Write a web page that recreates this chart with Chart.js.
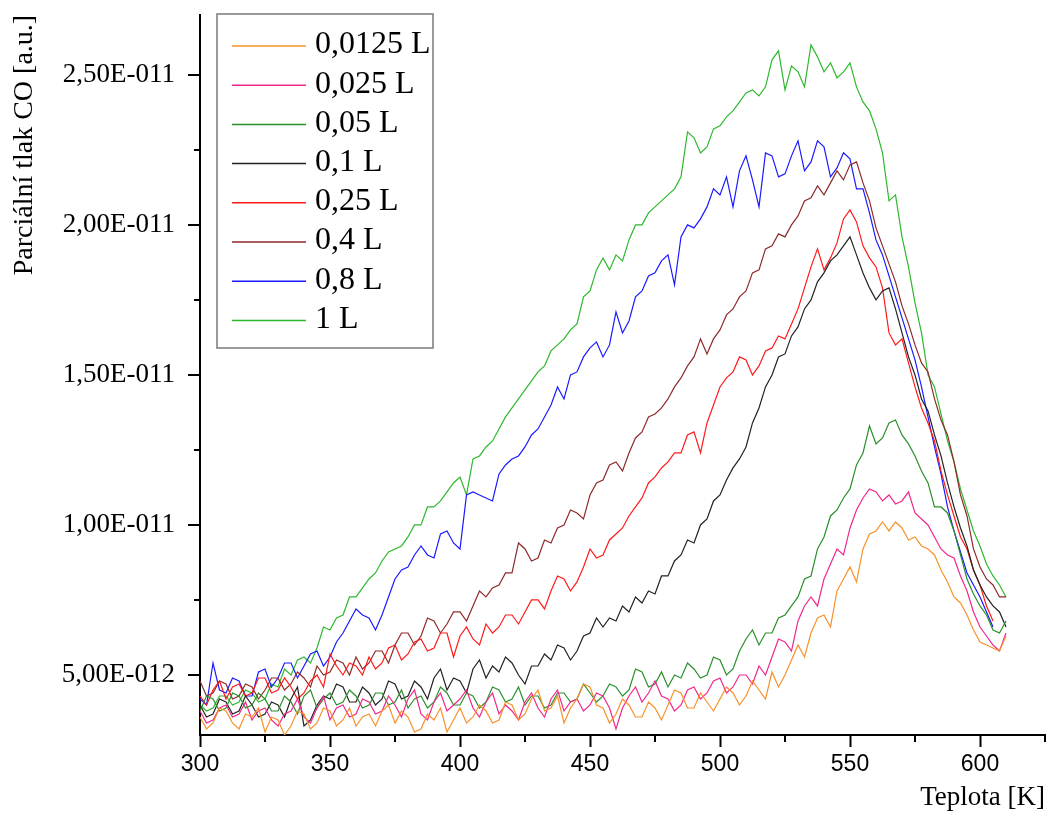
<!DOCTYPE html>
<html>
<head>
<meta charset="utf-8">
<script src="https://cdn.jsdelivr.net/npm/chart.js@4.4.1/dist/chart.umd.min.js"></script>
<style>
  html, body { margin: 0; padding: 0; background: #fff; }
  #chart { display: block; }
</style>
</head>
<body>
<canvas id="chart" width="1050" height="814"></canvas>
<script>
// temperatures [K]
const temperatures = [
  300, 302.5, 305, 307.5, 310, 312.5, 315, 317.5, 320, 322.5,
  325, 327.5, 330, 332.5, 335, 337.5, 340, 342.5, 345, 347.5,
  350, 352.5, 355, 357.5, 360, 362.5, 365, 367.5, 370, 372.5,
  375, 377.5, 380, 382.5, 385, 387.5, 390, 392.5, 395, 397.5,
  400, 402.5, 405, 407.5, 410, 412.5, 415, 417.5, 420, 422.5,
  425, 427.5, 430, 432.5, 435, 437.5, 440, 442.5, 445, 447.5,
  450, 452.5, 455, 457.5, 460, 462.5, 465, 467.5, 470, 472.5,
  475, 477.5, 480, 482.5, 485, 487.5, 490, 492.5, 495, 497.5,
  500, 502.5, 505, 507.5, 510, 512.5, 515, 517.5, 520, 522.5,
  525, 527.5, 530, 532.5, 535, 537.5, 540, 542.5, 545, 547.5,
  550, 552.5, 555, 557.5, 560, 562.5, 565, 567.5, 570, 572.5,
  575, 577.5, 580, 582.5, 585, 587.5, 590, 592.5, 595, 597.5,
  600, 602.5, 605, 607.5, 610
];

// partial pressure of CO, in units of 1E-012
const p0125 = [
  3.6, 3.2, 3.4, 3.9, 3.8, 3.4, 3.2, 3.7, 3.6, 3.9,
  3.1, 3.6, 3.5, 3.0, 3.3, 3.8, 3.7, 3.2, 3.4, 3.9,
  3.8, 3.3, 3.5, 3.9, 3.3, 3.6, 3.7, 3.3, 3.8, 4.0,
  3.4, 3.8, 3.6, 3.1, 3.2, 3.7, 3.5, 3.9, 3.1, 3.5,
  3.9, 3.4, 3.6, 4.0, 3.8, 3.4, 3.5, 4.1, 4.0, 3.5,
  3.7, 4.2, 4.5, 3.8, 3.9, 4.3, 3.4, 3.9, 4.2, 4.7,
  4.6, 4.0, 3.9, 3.4, 3.7, 4.2, 4.0, 3.6, 3.6, 4.1,
  3.9, 3.5, 4.0, 4.5, 4.4, 3.9, 3.9, 4.4, 4.1, 3.8,
  4.2, 4.6, 4.4, 4.0, 4.3, 4.8, 4.5, 4.2, 5.1, 4.6,
  5.0, 5.5, 6.0, 5.6, 6.4, 6.9, 7.0, 6.6, 7.8, 8.2,
  8.6, 8.1, 9.2, 9.7, 9.8, 10.1, 9.8, 10.1, 9.9, 9.5,
  9.6, 9.3, 9.2, 9.0, 8.5, 8.1, 7.6, 7.4, 7.0, 6.5,
  6.1, 6.0, 5.9, 5.8, 6.3
];
const p025 = [
  3.8, 3.4, 3.5, 3.9, 4.0, 3.6, 3.7, 4.1, 3.5, 3.8,
  3.9, 3.5, 3.3, 3.7, 3.8, 4.2, 3.6, 3.4, 3.9, 4.3,
  3.5, 3.9, 4.0, 3.6, 3.7, 4.2, 4.1, 3.7, 3.8, 4.3,
  4.0, 3.6, 4.2, 4.5, 3.7, 3.5, 4.1, 4.4, 3.8, 4.0,
  4.2, 4.5, 3.9, 3.6, 4.1, 4.4, 3.7, 4.0, 3.8, 3.5,
  4.1, 4.4, 3.9, 3.6, 4.2, 4.5, 3.8, 4.1, 4.2, 3.8,
  4.0, 4.4, 4.3, 3.9, 3.2, 3.9, 4.3, 4.6, 4.1, 4.4,
  4.8, 4.3, 4.2, 3.8, 4.0, 4.5, 4.6, 4.2, 4.4, 4.8,
  4.9, 4.4, 4.6, 5.0, 5.0, 4.7, 5.3, 5.0, 5.6, 6.2,
  6.1, 5.8, 6.8, 7.3, 7.6, 7.3, 8.2, 8.7, 9.2, 9.0,
  9.9, 10.5, 10.9, 11.2, 11.1, 10.8, 11.0, 10.7, 10.8, 11.1,
  10.4, 10.2, 10.0, 9.6, 9.2, 9.0, 8.9, 8.3, 7.8, 7.1,
  6.6, 6.3, 6.0, 5.8, 6.4
];
const p05 = [
  3.8, 4.3, 4.2, 3.8, 3.9, 4.4, 4.3, 3.9, 4.0, 4.4,
  4.2, 3.8, 3.8, 4.3, 4.1, 3.7, 4.3, 4.5, 3.9, 4.2,
  4.4, 4.0, 4.1, 4.5, 4.3, 3.9, 4.0, 4.4, 4.4, 4.0,
  4.1, 4.5, 3.9, 4.2, 4.3, 3.9, 4.1, 4.6, 4.4, 4.0,
  4.0, 4.4, 4.3, 3.9, 4.1, 4.6, 4.5, 4.1, 4.2, 4.6,
  4.0, 4.3, 4.3, 3.9, 4.0, 4.4, 4.4, 4.1, 4.2, 4.7,
  4.4, 4.1, 4.3, 4.7, 4.6, 4.3, 4.5, 5.2, 5.1, 4.6,
  4.7, 5.1, 4.6, 5.0, 4.9, 5.4, 5.2, 4.9, 5.0, 5.6,
  5.5, 5.0, 5.2, 5.8, 6.2, 6.5, 6.0, 6.4, 6.4, 6.9,
  7.0, 7.3, 7.6, 8.2, 8.3, 9.2, 9.6, 10.3, 10.5, 10.9,
  11.2, 12.0, 12.4, 13.3, 12.7, 12.9, 13.4, 13.5, 13.0, 12.7,
  12.3, 11.8, 11.4, 10.6, 10.6, 10.4, 9.8, 9.0, 8.2, 7.7,
  7.3, 7.0, 6.5, 6.4, 6.8
];
const p1 = [
  4.0, 3.6, 3.7, 4.2, 4.1, 3.7, 3.8, 4.3, 4.0, 3.6,
  3.7, 4.1, 4.0, 3.6, 4.2, 4.6, 3.3, 3.5, 4.0, 4.3,
  4.2, 4.7, 4.6, 4.1, 4.1, 4.6, 4.4, 4.0, 4.2, 4.8,
  4.7, 4.2, 4.3, 4.8, 4.6, 4.2, 4.9, 5.2, 4.5, 4.9,
  4.8, 4.4, 5.2, 5.5, 4.9, 5.3, 5.1, 5.6, 5.4, 5.0,
  4.7, 5.3, 5.3, 5.7, 5.5, 6.0, 5.9, 5.5, 5.8, 6.3,
  6.4, 6.9, 6.6, 6.9, 6.8, 7.3, 7.1, 7.6, 7.4, 7.8,
  7.7, 8.3, 8.3, 8.8, 9.0, 9.5, 9.4, 10.0, 10.2, 10.8,
  11.0, 11.5, 11.9, 12.2, 12.6, 13.4, 13.9, 14.6, 15.0, 15.6,
  15.7, 16.3, 16.6, 17.2, 17.5, 18.1, 18.4, 18.8, 19.0, 19.3,
  19.6, 19.0, 18.4, 17.9, 17.5, 17.8, 17.9, 17.2, 16.4, 15.6,
  15.0, 14.2, 13.8, 13.0, 12.3, 11.4, 10.6, 9.9, 9.3, 8.5,
  8.0, 7.6, 7.3, 7.1, 6.6
];
const p25 = [
  4.3, 4.0, 4.5, 4.8, 4.2, 4.6, 4.7, 4.3, 4.4, 4.9,
  4.9, 4.4, 4.5, 4.9, 4.6, 4.2, 4.4, 4.8, 5.0, 4.6,
  5.7, 5.3, 5.0, 5.4, 5.3, 5.0, 5.6, 5.2, 5.4, 5.9,
  6.0, 5.5, 5.7, 6.1, 6.2, 5.8, 5.9, 6.4, 6.4, 5.6,
  6.3, 6.6, 6.2, 6.0, 6.7, 6.4, 6.6, 7.0, 7.0, 6.7,
  7.1, 7.5, 7.5, 7.2, 7.8, 8.3, 8.2, 7.8, 8.1, 8.6,
  9.2, 8.9, 9.0, 9.5, 9.7, 9.9, 10.3, 10.6, 10.9, 11.4,
  11.6, 11.9, 12.1, 12.4, 12.4, 13.0, 13.1, 12.4, 13.4, 14.0,
  14.6, 14.9, 15.1, 15.6, 15.5, 15.0, 15.3, 15.8, 15.9, 16.3,
  16.2, 16.7, 17.2, 17.9, 18.6, 19.2, 18.5, 18.9, 19.4, 20.2,
  20.5, 20.1, 19.3, 18.9, 18.6, 17.9, 16.4, 16.0, 16.2, 15.4,
  14.6, 13.9, 13.4, 12.8, 11.8, 11.0, 10.3, 9.6, 9.2, 8.5,
  8.0, 7.3, 6.8, null, null
];
const p4 = [
  4.8, 4.3, 4.4, 4.8, 4.7, 4.2, 4.3, 4.7, 4.6, 4.2,
  4.5, 4.9, 4.9, 4.5, 4.7, 5.1, 4.9, 4.6, 5.3, 5.0,
  5.1, 5.5, 5.4, 5.0, 5.6, 5.2, 5.4, 5.8, 5.8, 5.4,
  6.0, 6.4, 6.4, 6.0, 6.3, 6.9, 6.8, 6.4, 6.7, 7.1,
  7.1, 6.8, 7.3, 7.8, 7.6, 7.9, 8.0, 8.4, 8.4, 9.4,
  9.2, 8.8, 8.9, 9.5, 9.4, 9.9, 10.0, 10.5, 10.4, 10.2,
  11.0, 11.4, 11.5, 12.0, 12.1, 11.8, 12.4, 12.9, 13.1, 13.6,
  13.7, 13.9, 14.2, 14.6, 14.9, 15.3, 15.6, 16.2, 15.7, 16.2,
  16.5, 17.0, 17.2, 17.6, 17.8, 18.4, 18.5, 19.2, 19.3, 19.7,
  19.6, 20.0, 20.3, 20.8, 20.9, 21.3, 21.0, 21.4, 21.8, 21.5,
  22.0, 22.1, 21.4, 20.8, 19.9, 19.3, 18.7, 18.1, 17.3, 16.7,
  16.0, 15.4, 15.1, 14.2, 13.5, 13.0, 12.1, 11.0, 10.3, 9.2,
  8.6, 8.2, 8.0, 7.6, 7.6
];
const p8 = [
  4.2, 4.0, 5.4, 4.5, 4.4, 4.9, 4.8, 4.3, 4.3, 5.1,
  5.2, 4.6, 4.9, 5.4, 5.4, 4.9, 5.3, 5.7, 5.8, 5.3,
  5.6, 6.1, 6.4, 6.8, 7.2, 7.0, 6.9, 6.5, 7.0, 7.6,
  8.2, 8.5, 8.6, 9.0, 9.3, 9.0, 8.9, 9.7, 9.8, 9.4,
  9.2, 11.0, 11.1, 11.0, 10.9, 10.8, 11.7, 12.0, 12.2, 12.3,
  12.6, 13.0, 13.2, 13.6, 14.0, 14.6, 14.2, 15.0, 15.1, 15.6,
  15.9, 16.1, 15.6, 16.0, 17.1, 16.4, 16.8, 17.6, 17.8, 18.3,
  18.4, 18.8, 19.0, 18.0, 19.6, 20.0, 19.9, 20.2, 20.6, 21.2,
  21.0, 21.6, 20.6, 21.8, 22.3, 21.5, 20.6, 22.4, 22.3, 21.6,
  21.7, 22.3, 22.8, 21.8, 22.1, 22.8, 22.6, 21.6, 21.9, 22.4,
  22.2, 21.2, 21.2, 20.4, 19.5, 19.0, 18.3, 17.6, 16.9, 16.2,
  15.5, 14.6, 13.6, 12.6, 11.7, 10.6, 9.8, 9.1, 8.4, 8.0,
  7.6, 7.1, 6.6, null, null
];
const p10 = [
  4.0, 3.8, 3.9, 4.3, 4.3, 4.0, 4.1, 4.5, 4.4, 4.1,
  4.2, 4.7, 4.6, 5.2, 5.0, 5.5, 5.6, 5.4, 5.9, 6.6,
  6.5, 6.9, 7.0, 7.6, 7.6, 7.9, 8.2, 8.4, 8.8, 9.1,
  9.2, 9.3, 9.6, 10.0, 10.0, 10.6, 10.6, 10.8, 11.1, 11.4,
  11.6, 11.0, 12.2, 12.3, 12.6, 12.8, 13.2, 13.6, 13.9, 14.2,
  14.5, 14.8, 15.1, 15.3, 15.8, 16.0, 16.2, 16.5, 16.7, 17.6,
  17.8, 18.5, 18.9, 18.5, 19.0, 18.8, 19.5, 20.0, 20.0, 20.4,
  20.6, 20.8, 21.0, 21.2, 21.6, 23.1, 22.9, 22.4, 22.6, 23.2,
  23.3, 23.6, 23.8, 24.1, 24.4, 24.5, 24.3, 24.6, 25.5, 25.8,
  24.5, 25.3, 25.1, 24.6, 26.0, 25.6, 25.1, 25.4, 24.9, 25.1,
  25.4, 24.6, 24.1, 23.8, 23.2, 22.4, 20.8, 21.0, 19.6, 18.6,
  17.4, 16.4, 15.0, 14.6, 13.7, 12.8, 12.1, 11.2, 10.5, 9.8,
  9.3, 8.7, 8.3, 8.0, 7.6
];

const seriesLabels = ['0,0125 L', '0,025 L', '0,05 L', '0,1 L', '0,25 L', '0,4 L', '0,8 L', '1 L'];
const seriesValues = [p0125, p025, p05, p1, p25, p4, p8, p10];
const seriesColors = ['#f7922a', '#f0288c', '#2a8f2a', '#222222', '#ff1a1a', '#8e2a2a', '#1a1aff', '#2db82d'];

const xMinorTicks = [325, 375, 425, 475, 525, 575, 625];
const yMinorTicks = [7.5, 12.5, 17.5, 22.5];

// 25 -> "2,50E-011"
function formatSci(v) {
  const e = Math.floor(Math.log10(v) + 1e-9);
  const m = v / Math.pow(10, e);
  const exp = e - 12;
  return m.toFixed(2).replace('.', ',') + 'E' + (exp < 0 ? '-' : '+') + String(Math.abs(exp)).padStart(3, '0');
}

const axisExtras = {
  id: 'axisExtras',
  afterDraw(chart) {
    const { ctx, chartArea, scales } = chart;
    ctx.save();
    ctx.strokeStyle = '#000';
    ctx.lineWidth = 2;
    ctx.beginPath();
    // y major ticks (the grid ticks are invisible, they only push the labels out)
    scales.y.ticks.forEach(t => {
      const y = Math.round(scales.y.getPixelForValue(t.value));
      ctx.moveTo(chartArea.left - 12, y);
      ctx.lineTo(chartArea.left, y);
    });
    yMinorTicks.forEach(v => {
      const y = Math.round(scales.y.getPixelForValue(v));
      ctx.moveTo(chartArea.left - 6, y);
      ctx.lineTo(chartArea.left, y);
    });
    xMinorTicks.forEach(v => {
      const x = Math.round(scales.x.getPixelForValue(v));
      ctx.moveTo(x, chartArea.bottom);
      ctx.lineTo(x, chartArea.bottom + 7);
    });
    ctx.stroke();

    // legend box
    const bx = 217, by = 14, bw = 216, bh = 334;
    ctx.fillStyle = '#fff';
    ctx.fillRect(bx, by, bw, bh);
    ctx.strokeStyle = '#7a7a7a';
    ctx.lineWidth = 1.5;
    ctx.strokeRect(bx, by, bw, bh);
    ctx.font = '32px "Liberation Serif"';
    ctx.textBaseline = 'middle';
    ctx.textAlign = 'left';
    chart.data.datasets.forEach((ds, i) => {
      const y = 46 + i * 39.2;
      ctx.strokeStyle = ds.borderColor;
      ctx.lineWidth = 1.5;
      ctx.beginPath();
      ctx.moveTo(232, y);
      ctx.lineTo(306, y);
      ctx.stroke();
      ctx.fillStyle = '#000';
      ctx.fillText(ds.label, 315, y - 1);
    });
    ctx.restore();
  }
};

new Chart(document.getElementById('chart').getContext('2d'), {
  type: 'line',
  data: {
    datasets: seriesValues.map((vals, i) => ({
      label: seriesLabels[i],
      borderColor: seriesColors[i],
      data: temperatures.map((t, j) => ({ x: t, y: vals[j] }))
    }))
  },
  options: {
    responsive: false,
    animation: false,
    layout: { padding: { top: 0, right: 5, left: 0, bottom: 0 } },
    elements: {
      point: { radius: 0 },
      line: { borderWidth: 1.2, tension: 0, fill: false }
    },
    plugins: {
      legend: { display: false },
      tooltip: { enabled: false }
    },
    scales: {
      x: {
        type: 'linear',
        min: 300,
        max: 625,
        ticks: {
          stepSize: 50,
          includeBounds: false,
          autoSkip: false,
          maxRotation: 0,
          padding: 4,
          color: '#000',
          font: { family: 'Liberation Sans', size: 23 },
          callback: v => String(v)
        },
        grid: {
          display: true,
          drawOnChartArea: false,
          drawTicks: true,
          tickLength: 12,
          tickWidth: 2,
          tickColor: '#000'
        },
        border: { display: true, color: '#000', width: 2 },
        title: {
          display: true,
          text: 'Teplota [K]',
          align: 'end',
          color: '#000',
          font: { family: 'Liberation Serif', size: 27 },
          padding: { top: 0, bottom: 0 }
        },
        afterFit(s) { s.height = 79; }
      },
      y: {
        type: 'linear',
        min: 3,
        max: 27,
        ticks: {
          stepSize: 5,
          includeBounds: false,
          padding: 0,
          color: '#000',
          font: { family: 'Liberation Serif', size: 27, lineHeight: 1.1 },
          callback: v => formatSci(v)
        },
        grid: {
          display: true,
          drawOnChartArea: false,
          drawTicks: true,
          tickLength: 25,
          tickColor: 'rgba(0,0,0,0)'
        },
        border: { display: true, color: '#000', width: 2 },
        title: {
          display: true,
          text: 'Parciální tlak CO [a.u.]',
          align: 'end',
          color: '#000',
          font: { family: 'Liberation Serif', size: 28 },
          padding: { top: 8, bottom: 0 }
        },
        afterFit(s) { s.width = 200; }
      }
    }
  },
  plugins: [axisExtras]
});
</script>
</body>
</html>
